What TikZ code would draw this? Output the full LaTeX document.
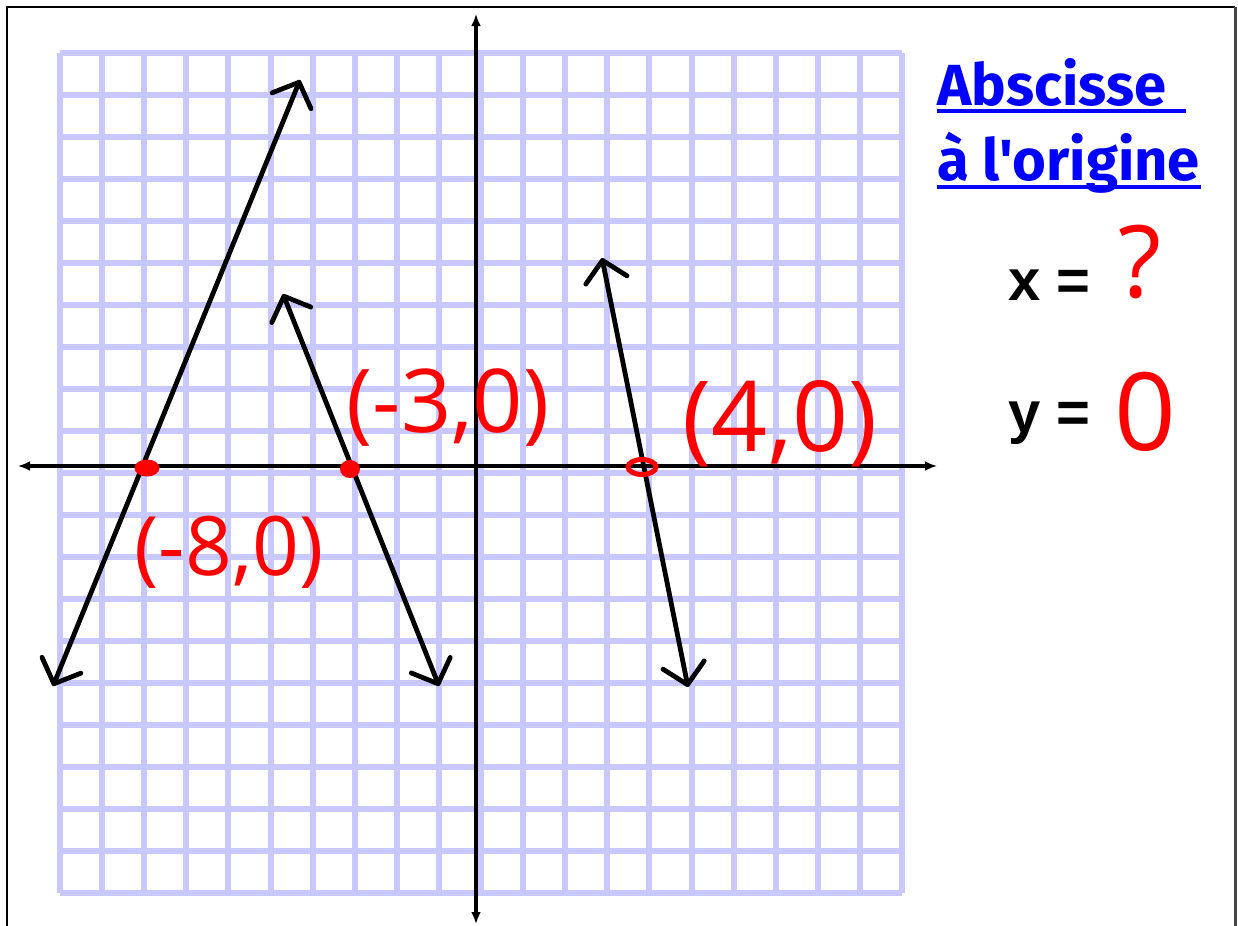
\documentclass[tikz,border=0pt]{standalone}
\usepackage{fontspec}
\setmainfont{Liberation Sans}
\newfontfamily\titlefont{Fira Sans}
\newfontfamily\handfont{Open Sans}
\usetikzlibrary{arrows.meta,shapes.geometric}
\definecolor{gridblue}{RGB}{200,200,255}
\definecolor{titleblue}{RGB}{0,0,255}
\definecolor{framegray}{RGB}{70,70,70}
\begin{document}
\begin{tikzpicture}[x=0.5pt,y=-0.5pt,
  gridline/.style={draw=gridblue, line width=3pt},
  axisline/.style={line width=1.8pt, {Latex[length=6pt,width=5pt]}-{Latex[length=6pt,width=5pt]}},
  graphline/.style={line width=2.4pt, line cap=round, {Straight Barb[length=10pt,width=21pt,round]}-{Straight Barb[length=10pt,width=21pt,round]}},
  reddot/.style={ellipse, fill=red, inner sep=0pt},
  redring/.style={ellipse, draw=red, line width=2.5pt, inner sep=0pt},
  hand/.style={text=red, font=\handfont\fontsize{41}{44}\selectfont, inner sep=0pt},
  title/.style={text=titleblue, font=\titlefont\bfseries\fontsize{29}{32}\selectfont, inner sep=0pt, anchor=base west},
  ulline/.style={draw=titleblue, line width=2pt},
  eqtext/.style={font=\bfseries\fontsize{29}{32}\selectfont, inner sep=0pt, anchor=base west}
]
\useasboundingbox (0,0) rectangle (1238,926);
\fill[white] (0,0) rectangle (1238,926);
% frame
\draw[line width=1.3pt] (7,926) -- (7,7) -- (1235,7);
\draw[framegray, line width=1.5pt] (1235,7) -- (1235,926);
% grid
\foreach \k in {0,...,20} {
  \draw[gridline] ({60+42.1*\k},53) -- ({60+42.1*\k},893);
  \draw[gridline] (60,{53+42*\k}) -- (902,{53+42*\k});
}
% axes
\coordinate (xl) at (18,466);
\coordinate (xr) at (937,466);
\coordinate (yt) at (476,14);
\coordinate (yb) at (476,924);
\draw[axisline] (xl) -- (xr);
\draw[axisline] (yb) -- (yt);
% lines
\coordinate (l1a) at (53,686);
\coordinate (l1b) at (300,80);
\coordinate (l2a) at (283,294);
\coordinate (l2b) at (439,686);
\coordinate (l3a) at (602,258);
\coordinate (l3b) at (688,687);
\draw[graphline] (l1a) -- (l1b);
\draw[graphline] (l2a) -- (l2b);
\draw[graphline] (l3a) -- (l3b);
% intercept points
\node[reddot, minimum width=12.5pt, minimum height=8.5pt] (p8) at (147,468) {};
\node[reddot, minimum width=10pt, minimum height=9pt] (p3) at (350,469) {};
\node[redring, minimum width=14pt, minimum height=7.5pt] (p4) at (642,467) {};
% labels
\node[hand, font=\handfont\fontsize{44}{48}\selectfont] (lab3) at (448,408) {(-3,0)};
\node[hand] (lab8) at (229,552) {(-8,0)};
\node[hand, font=\handfont\fontsize{49}{52}\selectfont] (lab4) at (780,424) {(4,0)};
% title
\node[title] (t1) at (937,105) {Abscisse};
\node[title] (t2) at (937,180) {à l'origine};
\coordinate (u1a) at (937,111);
\coordinate (u1b) at (1186,111);
\coordinate (u2a) at (937,187);
\coordinate (u2b) at (1201,187);
\draw[ulline] (u1a) -- (u1b);
\draw[ulline] (u2a) -- (u2b);
% equations
\node[eqtext] (ex) at (1008,300) {x =};
\node[eqtext] (ey) at (1008,432) {y =};
\node[hand, font=\handfont\fontsize{50}{54}\selectfont] (qm) at (1140,262) {?};
\node[hand, font=\handfont\fontsize{54}{58}\selectfont] (zero) at (1145,412) {0};
\end{tikzpicture}
\end{document}
